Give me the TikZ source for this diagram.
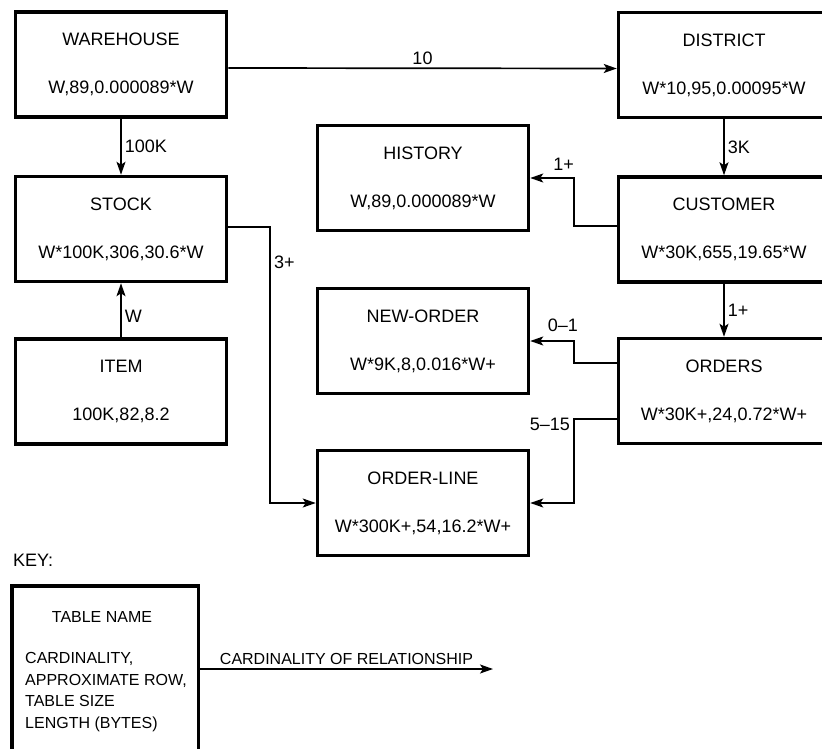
\documentclass[tikz,border=0pt]{standalone}
\usepackage{fontspec}
\setmainfont{Liberation Sans}
\usetikzlibrary{arrows.meta, positioning, calc}
\tikzset{
	tablebox/.style={
		rectangle, minimum width=211pt, minimum height=105pt,
		align=center, draw=black, line width=3.5pt, inner sep=0pt,
		execute at begin node={\rule{0pt}{19pt}}
	},
	arrow/.style={
		-{Stealth[length=13pt, width=9pt, inset=3pt]}, line width=1.7pt, color=black
	},
	cardlabel/.style={inner sep=3pt},
	keytext/.style={font=\fontsize{16}{21.5}\selectfont}
}

\begin{document}
\begin{tikzpicture}[x=1pt, y=-1pt, font=\fontsize{18}{21}\selectfont]
		\clip (0,0) rectangle (822,749);
		
		%% ═══════════════════════════════
		%%  LEFT COLUMN
		%% ═══════════════════════════════
		\node[tablebox] (warehouse) at (121,64.5) {WAREHOUSE\\[27pt]W,89,0.000089*W};
		\node[tablebox] (stock) at (121,229) {STOCK\\[27pt]W*100K,306,30.6*W};
		\node[tablebox] (item) at (121,391.5) {ITEM\\[27pt]100K,82,8.2};
		
		%% ═══════════════════════════════
		%%  MIDDLE COLUMN
		%% ═══════════════════════════════
		\node[tablebox] (history) at (423,178) {HISTORY\\[27pt]W,89,0.000089*W};
		\node[tablebox] (neworder) at (423,341) {NEW-ORDER\\[27pt]W*9K,8,0.016*W+};
		\node[tablebox] (orderline) at (423,503) {ORDER-LINE\\[27pt]W*300K+,54,16.2*W+};
		
		%% ═══════════════════════════════
		%%  RIGHT COLUMN (cut by the page edge)
		%% ═══════════════════════════════
		\node[tablebox] (district) at (724,65) {DISTRICT\\[27pt]W*10,95,0.00095*W};
		\node[tablebox] (customer) at (724,229.5) {CUSTOMER\\[27pt]W*30K,655,19.65*W};
		\node[tablebox] (orders) at (724,391) {ORDERS\\[27pt]W*30K+,24,0.72*W+};
		
		% Warehouse → District / Stock
		\draw[arrow] ([yshift=-3.5pt]warehouse.east) -- node[cardlabel, above] (lten) {10} ([yshift=-3.5pt]district.west);
		\draw[arrow] (warehouse.south) -- node[cardlabel, right] (lhundredk) {100K} (stock.north);
		
		% Item → Stock
		\draw[arrow] (item.north) -- node[cardlabel, pos=0.38, right] (lw) {W} (stock.south);
		
		% Stock → Order-Line
		\draw[arrow] ([yshift=2pt]stock.east) -- ++(42,0) -- ++(0,35) node[cardlabel, right] (lthree) {3+} |- (orderline.west);
		
		% District → Customer → Orders
		\draw[arrow] (district.south) -- node[cardlabel, right] (lthreek) {3K} (customer.north);
		\draw[arrow] (customer.south) -- node[cardlabel, right] (lonec) {1+} (orders.north);
		
		% Customer → History
		\draw[arrow] ([yshift=3.5pt]customer.west) -- ++(-43,0) |- node[cardlabel, pos=0.5, above left, xshift=4pt, yshift=4pt] (loneh) {1+} (history.east);
		
		% Orders → New-Order / Order-Line
		\draw[arrow] ([yshift=28pt]orders.west) -- ++(-43,0) |- node[cardlabel, pos=0.5, above left, xshift=8pt, yshift=5pt] (lzero) {0–1} (neworder.east);
		\draw[arrow] ([yshift=-28pt]orders.west) -- ++(-43,0) node[cardlabel, left, yshift=-5pt] (lfive) {5–15} |- (orderline.east);
		
		%% ═══════════════════════════════
		%%  KEY
		%% ═══════════════════════════════
		\node[anchor=west, inner sep=0pt] (keytitle) at (13,560) {KEY:};
		\node[tablebox, minimum width=186.5pt, minimum height=175pt] (keybox) at (105,673.5) {};
		\node[keytext, inner sep=0pt] (keyname) at (102,617) {TABLE NAME};
		\node[keytext, anchor=north west, align=left, inner sep=0pt] (keydesc) at (25,652.5)
		{CARDINALITY,\\APPROXIMATE ROW,\\TABLE SIZE\\LENGTH (BYTES)};
		\coordinate (keyend) at (493,669);
		\draw[arrow] (keybox.east |- keyend) -- node[keytext, cardlabel, above] (lkey) {CARDINALITY OF RELATIONSHIP} (keyend);
		
\end{tikzpicture}
\end{document}
